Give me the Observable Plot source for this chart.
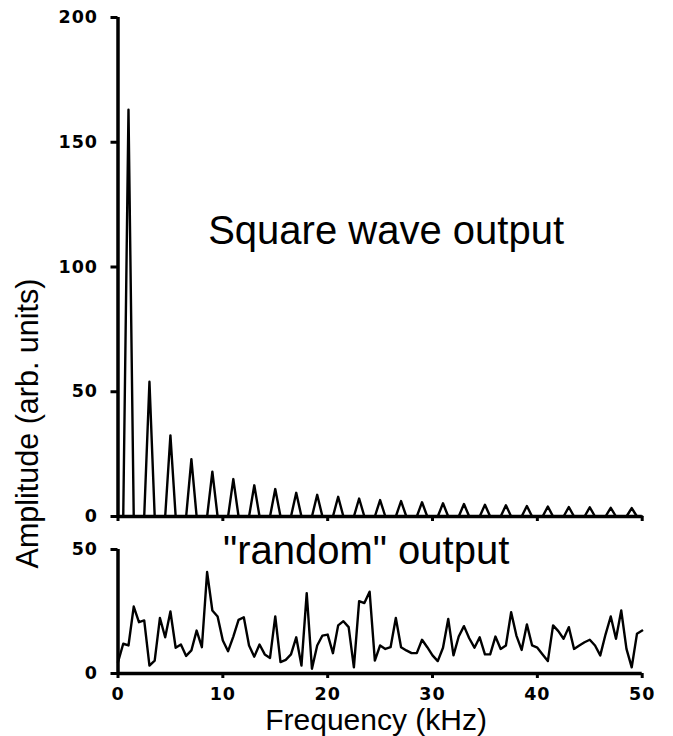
<!DOCTYPE html>
<html>
<head>
<meta charset="utf-8">
<script src="https://cdn.jsdelivr.net/npm/d3@7"></script>
<script src="https://cdn.jsdelivr.net/npm/@observablehq/plot@0.6"></script>
<style>
html, body { margin: 0; padding: 0; background: #fff; }
#chart { position: relative; width: 673px; height: 736px; overflow: hidden; background: #fff; }
#chart svg { position: absolute; left: 0; }
</style>
</head>
<body>
<div id="chart"></div>
<script>
// Frequency grid (kHz), shared by both spectra
const frequencies = [
  0, 0.5, 1, 1.5, 2, 2.5, 3, 3.5, 4, 4.5, 5, 5.5, 6, 6.5, 7, 7.5, 8, 8.5, 9, 9.5,
  10, 10.5, 11, 11.5, 12, 12.5, 13, 13.5, 14, 14.5, 15, 15.5, 16, 16.5, 17, 17.5, 18, 18.5, 19, 19.5,
  20, 20.5, 21, 21.5, 22, 22.5, 23, 23.5, 24, 24.5, 25, 25.5, 26, 26.5, 27, 27.5, 28, 28.5, 29, 29.5,
  30, 30.5, 31, 31.5, 32, 32.5, 33, 33.5, 34, 34.5, 35, 35.5, 36, 36.5, 37, 37.5, 38, 38.5, 39, 39.5,
  40, 40.5, 41, 41.5, 42, 42.5, 43, 43.5, 44, 44.5, 45, 45.5, 46, 46.5, 47, 47.5, 48, 48.5, 49, 49.5,
  50
];

// Square wave output amplitude (arb. units)
const squareWave = [
  0, 0, 163, 0,   0, 0, 54, 0,   0, 0, 32.5, 0,   0, 0, 23, 0,   0, 0, 18, 0,
  0, 0, 15, 0,    0, 0, 12.5, 0, 0, 0, 11, 0,     0, 0, 9.5, 0,  0, 0, 8.7, 0,
  0, 0, 7.9, 0,   0, 0, 7.2, 0,  0, 0, 6.6, 0,    0, 0, 6.2, 0,  0, 0, 5.7, 0,
  0, 0, 5.3, 0,   0, 0, 5.0, 0,  0, 0, 4.7, 0,    0, 0, 4.5, 0,  0, 0, 4.2, 0,
  0, 0, 4.0, 0,   0, 0, 3.8, 0,  0, 0, 3.7, 0,    0, 0, 3.5, 0,  0, 0, 3.4, 0,
  0
];

// "random" output amplitude (arb. units)
const randomOutput = [
  4.6, 12, 11.3, 27, 20.7, 21.4, 3.2, 5.2, 22.4, 14.6, 25, 10.4, 11.7, 7.1, 9.3, 17.3, 10.6, 40.9, 25.4, 23,
  13.3, 9, 14.9, 21.6, 22.7, 11.3, 6.8, 11.7, 7.7, 6.3, 23, 4.6, 5.5, 7.7, 14.6, 3.2, 32.4, 1.9, 11.3, 15.3,
  15.7, 8.2, 19.4, 21.1, 18.7, 2.5, 29.2, 28.4, 33, 5.2, 11.3, 9.9, 10.6, 22.4, 10.6, 9.3, 8.2, 8.2, 13.6, 10.6,
  7.3, 5, 10.4, 22, 7.3, 14.9, 19.1, 14.2, 10.4, 14.6, 7.7, 7.7, 14.9, 9.9, 11.3, 24.7, 15.3, 9.5, 19.8, 11.3,
  10.4, 7.7, 5, 19.4, 17.1, 14, 18.7, 9.9, 11.3, 12.6, 13.6, 11.3, 7.3, 15.7, 23, 14, 25.4, 9.9, 2.5, 16,
  17.3
];

const xTicks = [0, 10, 20, 30, 40, 50];
const squareYTicks = [0, 50, 100, 150, 200];
const randomYTicks = [0, 50];

const squareTitle = "Square wave output";
const randomTitle = "\"random\" output";
const xLabel = "Frequency (kHz)";
const yLabel = "Amplitude (arb. units)";

const squareData = frequencies.map((f, i) => ({f, a: squareWave[i]}));
const randomData = frequencies.map((f, i) => ({f, a: randomOutput[i]}));

const tickFont = {fontFamily: "DejaVu Sans", fontSize: 17.5, fontWeight: "bold"};
const textFont = {fontFamily: "Liberation Sans, Arial, sans-serif", fontWeight: "normal"};

const baseStyle = {
  fontFamily: "DejaVu Sans",
  fontSize: "17px",
  background: "transparent",
  overflow: "visible",
  color: "black"
};

const topPlot = Plot.plot({
  width: 673,
  height: 530,
  marginLeft: 117.5,
  marginRight: 31.3,
  marginTop: 17,
  marginBottom: 14,
  x: {domain: [0, 50]},
  y: {domain: [0, 200]},
  style: baseStyle,
  marks: [
    Plot.axisY(squareYTicks, {tickSize: 7, tickPadding: 13, strokeWidth: 3, label: null, ...tickFont}),
    Plot.axisX(xTicks, {tickSize: 5, strokeWidth: 3, tickFormat: () => "", label: null}),
    Plot.ruleX([0], {strokeWidth: 3.5}),
    Plot.ruleY([0], {strokeWidth: 3.5}),
    Plot.line(squareData, {x: "f", y: "a", strokeWidth: 2.4}),
    Plot.text([squareTitle], {text: d => d, frameAnchor: "top", dx: 6, dy: 226, lineAnchor: "bottom", fontSize: 40, ...textFont}),
    Plot.text([yLabel], {text: d => d, frameAnchor: "left", rotate: -90, textAnchor: "middle", lineAnchor: "bottom", dx: -80.5, dy: 156.5, fontSize: 30.5, ...textFont})
  ]
});

const bottomPlot = Plot.plot({
  width: 673,
  height: 206,
  marginLeft: 117.5,
  marginRight: 31.3,
  marginTop: 19,
  marginBottom: 63,
  x: {domain: [0, 50]},
  y: {domain: [0, 50]},
  style: baseStyle,
  marks: [
    Plot.axisY(randomYTicks, {tickSize: 7, tickPadding: 13, strokeWidth: 3, label: null, ...tickFont}),
    Plot.axisX(xTicks, {tickSize: 5, tickPadding: 9, strokeWidth: 3, label: null, ...tickFont}),
    Plot.ruleX([0], {strokeWidth: 3.5}),
    Plot.ruleY([0], {strokeWidth: 3.5}),
    Plot.line(randomData, {x: "f", y: "a", strokeWidth: 2.4}),
    Plot.text([randomTitle], {text: d => d, frameAnchor: "top", dx: -14, dy: 14, lineAnchor: "bottom", fontSize: 40, ...textFont}),
    Plot.text([xLabel], {text: d => d, frameAnchor: "bottom", dy: 56, lineAnchor: "bottom", dx: -4, fontSize: 30, ...textFont})
  ]
});

// Widen the tick-label digits slightly, like the reference typeface
for (const svg of [topPlot, bottomPlot]) {
  d3.select(svg).selectAll('g[aria-label$="tick label"] text').style("letter-spacing", "1px");
}

const chart = document.getElementById("chart");
topPlot.style.top = "0px";
bottomPlot.style.top = "530px";
chart.appendChild(topPlot);
chart.appendChild(bottomPlot);
</script>
</body>
</html>
